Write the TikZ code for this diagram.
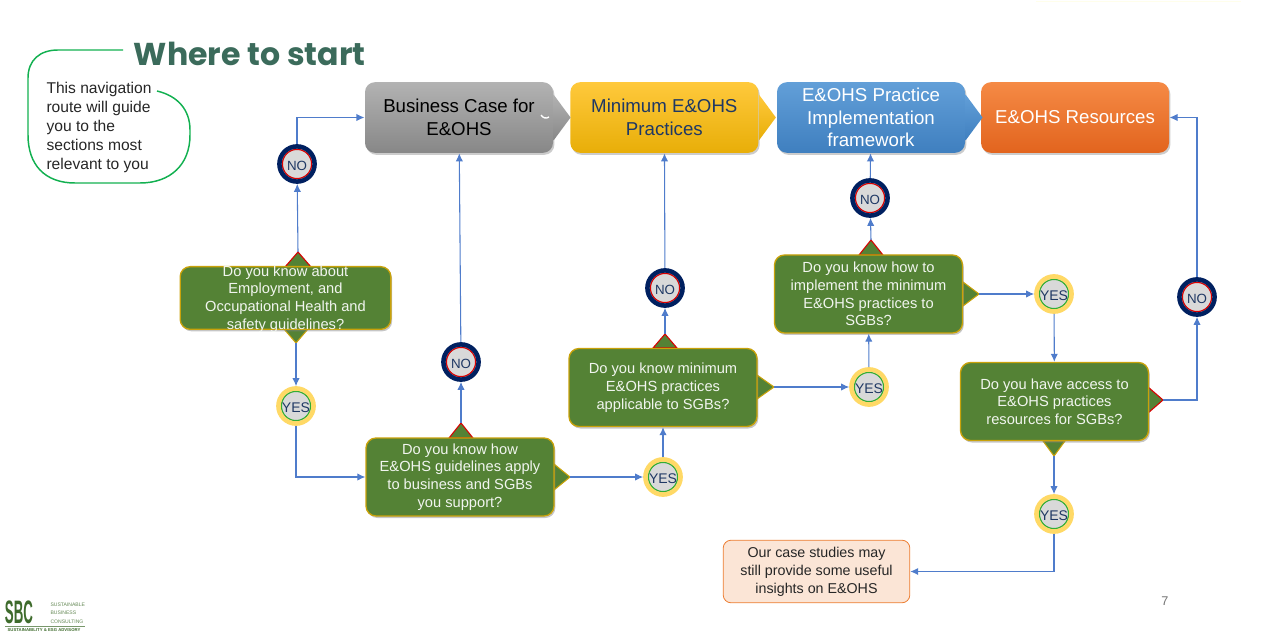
\documentclass[tikz,border=0pt]{standalone}
\usepackage{fontspec}
\setmainfont{Liberation Sans}
\newfontfamily\titlefont{Poppins}
\usetikzlibrary{arrows.meta, shadows, positioning}
\definecolor{flowblue}{HTML}{4F7CCB}
\definecolor{leafgreen}{HTML}{548235}
\definecolor{goldline}{HTML}{C9A20A}
\definecolor{navyring}{HTML}{002060}
\definecolor{navytext}{HTML}{1F3864}
\definecolor{yesring}{HTML}{FFD966}
\definecolor{titlegreen}{HTML}{3B6B5B}
\definecolor{calloutgreen}{HTML}{12B050}
\definecolor{logogreen}{HTML}{3E6B2C}
\definecolor{goldtop}{HTML}{FFC93C}
\definecolor{goldmid}{HTML}{FFC000}
\definecolor{goldlow}{HTML}{E8AE08}
\definecolor{bluetop}{HTML}{629FD8}
\definecolor{bluelow}{HTML}{3F7FBF}
\definecolor{orangetop}{HTML}{F58A45}
\definecolor{orangelow}{HTML}{E2641E}
\definecolor{peach}{HTML}{FBE5D6}
\definecolor{peachline}{HTML}{ED7D31}

\begin{document}
\begin{tikzpicture}[x=0.75pt, y=-0.75pt, ->, >={Latex[length=6pt,width=5.5pt]}, line width=0.8pt,
    link/.style={draw=flowblue},
    topbox/.style={rounded corners=7.5pt, minimum width=141pt, minimum height=53pt, align=center,
      font=\fontsize{14}{17}\selectfont, drop shadow={shadow xshift=1pt, shadow yshift=-1.5pt, opacity=.4}},
    graybox/.style={top color=black!30, bottom color=black!47, text=black},
    goldbox/.style={top color=goldtop, middle color=goldmid, bottom color=goldlow, text=navytext},
    bluebox/.style={top color=bluetop, bottom color=bluelow, text=white},
    orangebox/.style={top color=orangetop, bottom color=orangelow, text=white},
    question/.style={rounded corners=7.5pt, fill=leafgreen, draw=goldline, line width=1pt, align=center,
      text=white!92!leafgreen, minimum width=141pt, minimum height=58.5pt, inner sep=0pt,
      font=\fontsize{11}{13.3}\selectfont, execute at begin node={\vspace*{2pt}},
      drop shadow={shadow xshift=1pt, shadow yshift=-1.5pt, opacity=.45}},
    nobtn/.style={circle, draw=navyring, line width=3.4pt, fill=black!15, minimum size=26.4pt, inner sep=0pt,
      text=navytext, text height=10pt, font=\fontsize{10}{12}\selectfont,
      path picture={\draw[-, red!85!black, line width=.9pt] (path picture bounding box.center) circle (14.6);}},
    yesbtn/.style={circle, draw=yesring, line width=3.4pt, fill=black!15, minimum size=26.4pt, inner sep=0pt,
      text=navytext, text height=10pt, font=\fontsize{10.5}{12}\selectfont,
      path picture={\draw[-, green!60!black!80, line width=.9pt] (path picture bounding box.center) circle (14.6);}},
    redtip/.style={fill=leafgreen, draw=red!85!black, line width=.8pt},
    goldtip/.style={fill=leafgreen, draw=goldline, line width=.8pt},
    node distance=154pt]

  \useasboundingbox (0,0) rectangle (1266,634);

  % heading and navigation note
  \node[anchor=west, text=titlegreen, font=\titlefont\bfseries\fontsize{23.7}{28}\selectfont] (title) at (129,54) {Where to start};
  \node[anchor=north west, align=left, inner sep=0pt, text=black!85, font=\fontsize{11.7}{14.2}\selectfont] (intro) at (46,81.5)
    {This navigation\\route will guide\\you to the\\sections most\\relevant to you};
  \draw[-, draw=calloutgreen, line width=1.1pt] (123,50) -- (58,50) .. controls (40,50) and (28,60) .. (28,78)
    -- (28,135) .. controls (28,165) and (45,183) .. (75,183) -- (140,183)
    .. controls (170,183) and (190,165) .. (190,135) -- (190,130) .. controls (190,110) and (178,96) .. (157,91);

  % sections along the top
  \node[topbox, graybox] (biz) at (459,117.5) {Business Case for\\E\&OHS};
  \node[topbox, goldbox, right of=biz] (minp) {Minimum E\&OHS\\Practices};
  \node[topbox, bluebox, right of=minp, node distance=155pt] (impl) {E\&OHS Practice\\Implementation\\framework};
  \node[topbox, orangebox, right of=impl, node distance=153pt] (res) {E\&OHS Resources};
  \foreach \boxname/\boxcolor in {biz/graybox, minp/goldbox, impl/bluebox}
    \path[\boxcolor] (\boxname.east) ++(0,-23) -- ++(17,23) -- ++(-17,23) -- cycle;
  \draw[-, white, line width=1pt] (541,115) .. controls (543,118) and (546,119) .. (549,117);

  % little flags on the question boxes
  \filldraw[redtip] (285,267) -- ++(13,-15) coordinate (qaup) -- ++(13,15) -- cycle;
  \filldraw[goldtip] (284,329) -- ++(12,14) coordinate (qadown) -- ++(12,-14) -- cycle;
  \filldraw[redtip] (449,438) -- ++(12,-15) coordinate (qbup) -- ++(12,15) -- cycle;
  \filldraw[goldtip] (554,464) -- ++(16,13) coordinate (qbright) -- ++(-16,13) -- cycle;
  \filldraw[redtip] (653,348) -- ++(12,-14) coordinate (qcup) -- ++(12,14) -- cycle;
  \filldraw[goldtip] (757,375) -- ++(17,12) coordinate (qcright) -- ++(-17,12) -- cycle;
  \filldraw[redtip] (859,255) -- ++(12,-15) coordinate (qdup) -- ++(12,15) -- cycle;
  \filldraw[goldtip] (963,282) -- ++(16,12) coordinate (qdright) -- ++(-16,12) -- cycle;
  \filldraw[redtip] (1148,387) -- ++(15,13) coordinate (qeright) -- ++(-15,13) -- cycle;
  \filldraw[goldtip] (1043,441) -- ++(11,15) coordinate (qedown) -- ++(11,-15) -- cycle;

  % questions
  \node[question, minimum width=158pt, minimum height=46pt, text height=47pt, text depth=-1pt] (qa) at (285.5,298) {Do you know about\\Employment, and\\Occupational Health and\\safety guidelines?};
  \node[question] (qb) at (460,477) {Do you know how\\E\&OHS guidelines apply\\to business and SGBs\\you support?};
  \node[question] (qc) at (663,387.5) {Do you know minimum\\E\&OHS practices\\applicable to SGBs?};
  \node[question] (qd) at (868.5,294) {Do you know how to\\implement the minimum\\E\&OHS practices to\\SGBs?};
  \node[question] (qe) at (1054.5,401.5) {Do you have access to\\E\&OHS practices\\resources for SGBs?};

  % answers
  \node[nobtn] (noa) at (297,164) {NO};
  \node[nobtn] (nob) at (461,362) {NO};
  \node[nobtn] (noc) at (665,288) {NO};
  \node[nobtn] (nod) at (870,198) {NO};
  \node[nobtn] (noe) at (1197,297) {NO};
  \node[yesbtn] (yesa) at (296,406) {YES};
  \node[yesbtn] (yesb) at (663,477) {YES};
  \node[yesbtn] (yesc) at (869,387) {YES};
  \node[yesbtn] (yesd) at (1054,294) {YES};
  \node[yesbtn] (yese) at (1054,514) {YES};

  \node[rounded corners=6pt, fill=peach, draw=peachline, line width=.6pt, minimum width=140pt, minimum height=47pt,
    align=center, inner sep=0pt, text=black!85, font=\fontsize{10.7}{13.5}\selectfont,
    execute at begin node={\vspace*{1.5pt}}] (cases) at (816.5,571.5)
    {Our case studies may\\still provide some useful\\insights on E\&OHS};

  % connectors
  \draw[link] (qaup) -- (noa);
  \draw[link] (noa) |- (biz);
  \draw[link] (qadown) -- (yesa);
  \draw[link] (yesa) |- (qb);
  \draw[link] (qbup) -- (nob);
  \draw[link] (nob) -- (biz);
  \draw[link] (qbright) -- (yesb);
  \draw[link] (yesb) -- (qc);
  \draw[link] (qcup) -- (noc);
  \draw[link] (noc) -- (minp);
  \draw[link] (qcright) -- (yesc);
  \draw[link] (yesc) -- (qd);
  \draw[link] (qdup) -- (nod);
  \draw[link] (nod) -- (impl);
  \draw[link] (qdright) -- (yesd);
  \draw[link] (yesd) -- (qe);
  \draw[link] (qeright) -| (noe);
  \draw[link] (noe) |- (res);
  \draw[link] (qedown) -- (yese);
  \draw[link] (yese) |- (cases);

  % footer
  \node[text=black!55, font=\fontsize{9.5}{11}\selectfont] (pageno) at (1165,601) {7};
  \node[inner sep=0pt, text=logogreen] (logomark) at (19,612.5) {\resizebox{21pt}{17pt}{\bfseries SBC}};
  \node[anchor=west, inner sep=0pt, align=left, text=logogreen!80, font=\fontsize{3.8}{6.3}\selectfont] (logoname) at (50,613)
    {SUSTAINABLE\\BUSINESS\\CONSULTING};
  \node[inner sep=0pt, text=logogreen, font=\bfseries\fontsize{3.2}{4}\selectfont] (logotag) at (44,630.5) {SUSTAINABILITY \& ESG ADVISORY};
  \draw[-, draw=logogreen!70, line width=.6pt] (5,626.5) -- (85,626.5);
  \draw[-, draw=yellow!8, line width=.6pt] (1036,1) -- (1241,1);
\end{tikzpicture}
\end{document}
